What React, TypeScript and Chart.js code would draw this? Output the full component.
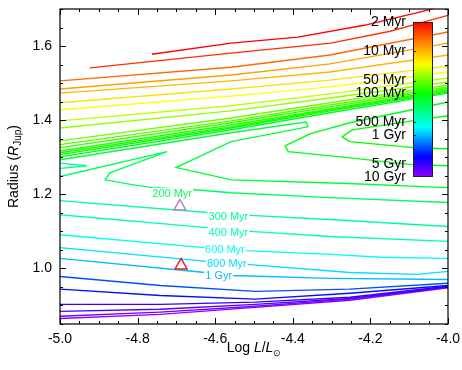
import React, { useEffect, useRef } from 'react';
import { Chart, registerables } from 'chart.js';
Chart.register(...registerables);

const FONT = '"Liberation Sans", Arial, Helvetica, sans-serif';

// ---- axis ticks ----
const X_MAJOR = [-5.0, -4.8, -4.6, -4.4, -4.2, -4.0];
const Y_MAJOR = [1.0, 1.2, 1.4, 1.6];

// ---- isochrones: [log L/Lsun, R/RJup] ----
const iso2Myr = [[-4.763, 1.578], [-4.559, 1.608], [-4.387, 1.624], [-4.216, 1.656], [-4.052, 1.697], [-3.995, 1.713]];
const iso3Myr = [[-4.923, 1.541], [-4.559, 1.581], [-4.302, 1.608], [-4.149, 1.640], [-4.0, 1.683]];
const iso5Myr = [[-5.0, 1.506], [-4.559, 1.543], [-4.304, 1.576], [-4.0, 1.638]];
const iso8Myr = [[-5.0, 1.484], [-4.559, 1.522], [-4.304, 1.552], [-4.0, 1.608]];
const iso10Myr = [[-5.0, 1.473], [-4.559, 1.506], [-4.304, 1.530], [-4.0, 1.576]];
const iso15Myr = [[-5.0, 1.447], [-4.559, 1.484], [-4.304, 1.508], [-4.0, 1.546]];
const iso20Myr = [[-5.0, 1.428], [-4.559, 1.465], [-4.304, 1.490], [-4.0, 1.530]];
const iso30Myr = [[-5.0, 1.398], [-4.559, 1.439], [-4.304, 1.471], [-4.0, 1.514]];
const iso40Myr = [[-5.0, 1.379], [-4.559, 1.425], [-4.304, 1.460], [-4.0, 1.503]];
const iso50Myr = [[-5.0, 1.344], [-4.559, 1.406], [-4.304, 1.447], [-4.0, 1.495]];
const iso60Myr = [[-5.0, 1.334], [-4.559, 1.398], [-4.304, 1.441], [-4.0, 1.490]];
const iso70Myr = [[-5.0, 1.326], [-4.559, 1.393], [-4.304, 1.436], [-4.0, 1.486]];
const iso80Myr = [[-5.0, 1.317], [-4.559, 1.387], [-4.304, 1.430], [-4.0, 1.482]];
const iso90Myr = [[-5.0, 1.312], [-4.559, 1.382], [-4.304, 1.428], [-4.0, 1.479]];
const iso100Myr = [[-5.0, 1.307], [-4.559, 1.379], [-4.304, 1.425], [-4.0, 1.476], [-3.943, 1.482], [-3.943, 1.420], [-4.0, 1.412], [-4.093, 1.398], [-4.247, 1.374], [-4.273, 1.355], [-4.253, 1.342], [-4.090, 1.326], [-4.0, 1.323], [-3.943, 1.320]];
const iso120Myr = [[-5.0, 1.301], [-4.559, 1.374], [-4.304, 1.420], [-4.0, 1.473], [-3.943, 1.476], [-3.943, 1.455], [-4.0, 1.449], [-4.093, 1.428], [-4.253, 1.393], [-4.356, 1.363], [-4.420, 1.331], [-4.412, 1.315], [-4.258, 1.299], [-4.093, 1.280], [-4.0, 1.277], [-3.943, 1.274]];
const iso150Myr = [[-5.0, 1.293], [-4.559, 1.366], [-4.366, 1.395], [-4.361, 1.382], [-4.559, 1.342], [-4.652, 1.296], [-4.701, 1.272], [-4.652, 1.261], [-4.559, 1.239], [-4.258, 1.229], [-4.0, 1.218]];
const iso200Myr = [[-5.0, 1.248], [-4.724, 1.315], [-4.871, 1.258], [-4.884, 1.239], [-4.814, 1.226], [-4.763, 1.218], [-4.660, 1.213], [-4.559, 1.204], [-4.304, 1.191], [-4.0, 1.178]];
const iso300Myr = [[-5.04, 1.288], [-4.930, 1.277], [-5.04, 1.266], [-5.04, 1.183], [-5.0, 1.183], [-4.621, 1.151], [-4.510, 1.143], [-4.304, 1.132], [-4.0, 1.113]];
const iso400Myr = [[-5.0, 1.145], [-4.621, 1.110], [-4.510, 1.100], [-4.304, 1.086], [-4.0, 1.073]];
const iso600Myr = [[-5.0, 1.091], [-4.629, 1.056], [-4.521, 1.048], [-4.302, 1.038], [-4.173, 1.030], [-4.0, 1.027]];
const iso800Myr = [[-5.0, 1.056], [-4.621, 1.019], [-4.518, 1.011], [-4.253, 0.989], [-4.080, 0.984], [-4.0, 0.992]];
const iso1Gyr = [[-5.0, 1.027], [-4.626, 0.989], [-4.557, 0.981], [-4.302, 0.973], [-4.0, 0.970]];
const iso2Gyr = [[-5.0, 0.978], [-4.742, 0.954], [-4.497, 0.938], [-4.253, 0.944], [-4.0, 0.960]];
const iso3Gyr = [[-5.0, 0.944], [-4.742, 0.927], [-4.497, 0.917], [-4.253, 0.933], [-4.0, 0.954]];
const iso5Gyr = [[-5.0, 0.903], [-4.742, 0.903], [-4.497, 0.909], [-4.253, 0.922], [-4.0, 0.952]];
const iso6Gyr = [[-5.0, 0.884], [-4.742, 0.890], [-4.497, 0.903], [-4.253, 0.919], [-4.0, 0.950]];
const iso8Gyr = [[-5.0, 0.871], [-4.742, 0.882], [-4.497, 0.898], [-4.253, 0.917], [-4.0, 0.949]];
const iso10Gyr = [[-5.0, 0.865], [-4.742, 0.876], [-4.497, 0.895], [-4.253, 0.914], [-4.0, 0.948]];

const AGES_MYR = [2, 3, 5, 8, 10, 15, 20, 30, 40, 50, 60, 70, 80, 90, 100, 120, 150, 200, 300, 400, 600, 800, 1000, 2000, 3000, 5000, 6000, 8000, 10000];
const ISOCHRONES = [iso2Myr, iso3Myr, iso5Myr, iso8Myr, iso10Myr, iso15Myr, iso20Myr, iso30Myr, iso40Myr, iso50Myr, iso60Myr, iso70Myr, iso80Myr, iso90Myr, iso100Myr, iso120Myr, iso150Myr, iso200Myr, iso300Myr, iso400Myr, iso600Myr, iso800Myr, iso1Gyr, iso2Gyr, iso3Gyr, iso5Gyr, iso6Gyr, iso8Gyr, iso10Gyr];

// ---- inline isochrone labels ----
const INLINE_TEXT = ['200 Myr', '300 Myr', '400 Myr', '600 Myr', '800 Myr', '1 Gyr'];
const INLINE_AGE_MYR = [200, 300, 400, 600, 800, 1000];
const INLINE_L = [-4.711, -4.566, -4.566, -4.575, -4.570, -4.591];
const INLINE_R = [1.2035, 1.141, 1.098, 1.050, 1.012, 0.982];

// ---- objects (triangles) ----
const OBJ_LOGL = [-4.691, -4.688];
const OBJ_R = [1.167, 1.008];
const OBJ_COLORS = ['#b987c9', '#e0202a'];

// ---- colorbar ----
const CB_LABELS = ['2 Myr', '10 Myr', '50 Myr', '100 Myr', '500 Myr', '1 Gyr', '5 Gyr', '10 Gyr'];
const CB_AGES_YR = [2e6, 1e7, 5e7, 1e8, 5e8, 1e9, 5e9, 1e10];
const CB_MIN = 2e6;
const CB_MAX = 1e10;

const CMAP_POS = [0, 0.12, 0.27, 0.46, 0.68, 0.87, 1];
const CMAP_HUE = [0, 28, 60, 120, 180, 240, 275];

function hueAt(f: number) {
  const t = Math.max(0, Math.min(1, f));
  for (let i = 1; i < CMAP_POS.length; i++) {
    if (t <= CMAP_POS[i]) {
      const u = (t - CMAP_POS[i - 1]) / (CMAP_POS[i] - CMAP_POS[i - 1]);
      return CMAP_HUE[i - 1] + u * (CMAP_HUE[i] - CMAP_HUE[i - 1]);
    }
  }
  return CMAP_HUE[CMAP_HUE.length - 1];
}
function fracOfAge(ageYr: number) {
  return (Math.log10(ageYr) - Math.log10(CB_MIN)) / (Math.log10(CB_MAX) - Math.log10(CB_MIN));
}
function colorOfFrac(f: number) {
  return `hsl(${hueAt(f).toFixed(1)}, 100%, 50%)`;
}
function ageColor(ageMyr: number) {
  return colorOfFrac(fracOfAge(ageMyr * 1e6));
}

function drawParts(ctx: CanvasRenderingContext2D, parts: any[], cx: number, baseline: number) {
  let total = 0;
  parts.forEach((p) => { ctx.font = p.font; total += ctx.measureText(p.text).width; });
  let xx = cx - total / 2;
  parts.forEach((p) => {
    ctx.font = p.font;
    ctx.fillText(p.text, xx, baseline + (p.dy || 0));
    xx += ctx.measureText(p.text).width;
  });
}

const overlayPlugin = {
  id: 'overlay',
  afterDatasetsDraw(chart: any) {
    const { ctx, chartArea: a, scales } = chart;
    const xs = scales.x;
    const ys = scales.y;
    ctx.save();

    // inline labels
    ctx.font = `11px ${FONT}`;
    ctx.textAlign = 'center';
    ctx.textBaseline = 'middle';
    INLINE_TEXT.forEach((t, i) => {
      const px = xs.getPixelForValue(INLINE_L[i]);
      const py = ys.getPixelForValue(INLINE_R[i]);
      const w = ctx.measureText(t).width;
      ctx.fillStyle = '#ffffff';
      ctx.fillRect(px - w / 2 - 1, py - 5, w + 2, 10);
      ctx.fillStyle = ageColor(INLINE_AGE_MYR[i]);
      ctx.fillText(t, px, py + 0.5);
    });

    // colorbar
    const cbL = 413, cbR = 433, cbT = 22, cbB = 177;
    const grad = ctx.createLinearGradient(0, cbT, 0, cbB);
    for (let k = 0; k <= 40; k++) grad.addColorStop(k / 40, colorOfFrac(k / 40));
    ctx.fillStyle = grad;
    ctx.fillRect(cbL, cbT, cbR - cbL, cbB - cbT);
    ctx.strokeStyle = '#222';
    ctx.lineWidth = 1;
    ctx.strokeRect(cbL + 0.5, cbT + 0.5, cbR - cbL - 1, cbB - cbT - 1);
    ctx.font = `14px ${FONT}`;
    ctx.textAlign = 'right';
    ctx.textBaseline = 'middle';
    ctx.fillStyle = '#000';
    CB_LABELS.forEach((t, i) => {
      const yy = cbT + fracOfAge(CB_AGES_YR[i]) * (cbB - cbT);
      ctx.fillText(t, 406, yy);
      if (i > 0 && i < CB_LABELS.length - 1) {
        ctx.beginPath();
        ctx.moveTo(cbL, Math.round(yy) + 0.5);
        ctx.lineTo(cbL + 3, Math.round(yy) + 0.5);
        ctx.stroke();
      }
    });

    // frame
    ctx.strokeStyle = '#000';
    ctx.lineWidth = 1.2;
    ctx.strokeRect(a.left, a.top, a.right - a.left, a.bottom - a.top);

    // ticks (inward, mirrored)
    ctx.lineWidth = 1;
    for (let k = 0; k <= 20; k++) {
      const v = -5 + k * 0.05;
      const major = X_MAJOR.some((m) => Math.abs(m - v) < 1e-6);
      const len = major ? 6 : 3;
      const p = Math.round(xs.getPixelForValue(v)) + 0.5;
      ctx.beginPath();
      ctx.moveTo(p, a.bottom); ctx.lineTo(p, a.bottom - len);
      ctx.moveTo(p, a.top); ctx.lineTo(p, a.top + len);
      ctx.stroke();
    }
    for (let k = 0; k <= 17; k++) {
      const v = 0.85 + k * 0.05;
      const major = Y_MAJOR.some((m) => Math.abs(m - v) < 1e-6);
      const len = major ? 6 : 3;
      const p = Math.round(ys.getPixelForValue(v)) + 0.5;
      ctx.beginPath();
      ctx.moveTo(a.left, p); ctx.lineTo(a.left + len, p);
      ctx.moveTo(a.right, p); ctx.lineTo(a.right - len, p);
      ctx.stroke();
    }

    // axis titles
    ctx.fillStyle = '#000';
    ctx.textAlign = 'left';
    ctx.textBaseline = 'alphabetic';
    drawParts(ctx, [
      { text: 'Log ', font: `14px ${FONT}` },
      { text: 'L', font: `italic 14px ${FONT}` },
      { text: '/', font: `14px ${FONT}` },
      { text: 'L', font: `italic 14px ${FONT}` },
      { text: '\u2299', font: `9px ${FONT}`, dy: 4 },
    ], (a.left + a.right) / 2, 352);

    ctx.translate(18, (a.top + a.bottom) / 2);
    ctx.rotate(-Math.PI / 2);
    drawParts(ctx, [
      { text: 'Radius (', font: `14px ${FONT}` },
      { text: 'R', font: `italic 14px ${FONT}` },
      { text: 'Jup', font: `10px ${FONT}`, dy: 3 },
      { text: ')', font: `14px ${FONT}` },
    ], 0, 0);

    ctx.restore();
  },
};

export default function App() {
  const ref = useRef<HTMLCanvasElement | null>(null);
  useEffect(() => {
    if (!ref.current) return;
    const datasets: any[] = [];
    OBJ_LOGL.forEach((l, i) => {
      datasets.push({
        type: 'scatter',
        data: [{ x: l, y: OBJ_R[i] }],
        pointStyle: 'triangle',
        pointRadius: 7,
        borderColor: OBJ_COLORS[i],
        backgroundColor: 'rgba(0,0,0,0)',
        borderWidth: 1.5,
        showLine: false,
      });
    });
    ISOCHRONES.forEach((pts, i) => {
      datasets.push({
        type: 'scatter',
        data: pts.map(([x, y]) => ({ x, y })),
        showLine: true,
        borderColor: ageColor(AGES_MYR[i]),
        backgroundColor: ageColor(AGES_MYR[i]),
        borderWidth: 1.4,
        pointRadius: 0,
        fill: false,
        tension: 0,
      });
    });
    const chart = new Chart(ref.current, {
      type: 'scatter',
      data: { datasets },
      options: {
        animation: false,
        responsive: false,
        devicePixelRatio: 1,
        events: [],
        layout: { padding: { top: 9, right: 14, left: 0, bottom: 0 } },
        plugins: { legend: { display: false }, tooltip: { enabled: false } },
        scales: {
          x: {
            type: 'linear',
            min: -5,
            max: -4,
            afterBuildTicks: (s: any) => { s.ticks = X_MAJOR.map((v) => ({ value: v })); },
            afterFit: (s: any) => { s.height = 46; s.paddingLeft = 0; s.paddingRight = 0; },
            grid: { display: false, drawTicks: false },
            border: { display: false },
            ticks: {
              font: { family: FONT, size: 14 },
              color: '#000',
              padding: 7,
              maxRotation: 0,
              autoSkip: false,
              callback: (v: any) => Number(v).toFixed(1),
            },
          },
          y: {
            type: 'linear',
            min: 0.85,
            max: 1.7,
            afterBuildTicks: (s: any) => { s.ticks = Y_MAJOR.map((v) => ({ value: v })); },
            afterFit: (s: any) => { s.width = 60; s.paddingTop = 0; s.paddingBottom = 0; },
            grid: { display: false, drawTicks: false },
            border: { display: false },
            ticks: {
              font: { family: FONT, size: 14 },
              color: '#000',
              padding: 8,
              autoSkip: false,
              callback: (v: any) => Number(v).toFixed(1),
            },
          },
        },
      },
      plugins: [overlayPlugin],
    } as any);
    return () => chart.destroy();
  }, []);
  return (
    <div style={{ position: 'fixed', left: 0, top: 0, width: 462, height: 370, background: '#fff' }}>
      <canvas ref={ref} width={462} height={370} style={{ display: 'block' }} />
    </div>
  );
}
